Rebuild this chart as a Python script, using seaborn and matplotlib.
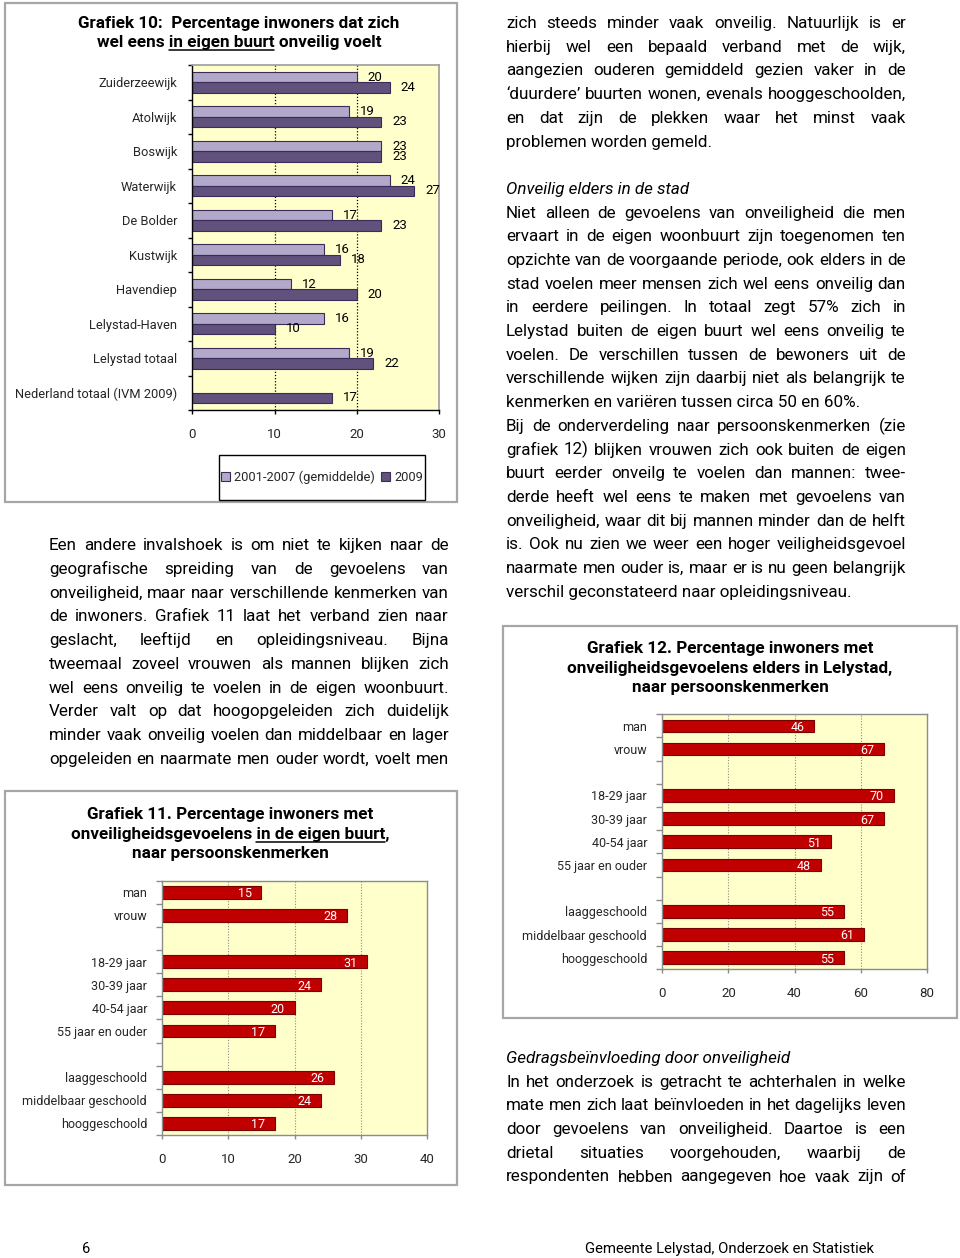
import numpy as np
import pandas as pd
import matplotlib
matplotlib.use("Agg")
import matplotlib.pyplot as plt
import seaborn as sns
from matplotlib.patches import Rectangle
from matplotlib.lines import Line2D
from matplotlib.font_manager import FontProperties

sns.set_theme(style="ticks")
FONT = "Roboto"
plt.rcParams["font.family"] = [FONT, "DejaVu Sans"]

W, H = 960, 1258

# ---- data: grafiek 10 ----
wijken = ["Zuiderzeewijk", "Atolwijk", "Boswijk", "Waterwijk", "De Bolder",
          "Kustwijk", "Havendiep", "Lelystad-Haven", "Lelystad totaal",
          "Nederland totaal (IVM 2009)"]
periodes = ["2001-2007 (gemiddelde)", "2009"]
gem_2001_2007 = [20, 19, 23, 24, 17, 16, 12, 16, 19, np.nan]
jaar_2009 = [24, 23, 23, 27, 23, 18, 20, 10, 22, 17]

# ---- data: grafiek 11 / 12 ----
geslacht = ["man", "vrouw"]
leeftijd = ["18-29 jaar", "30-39 jaar", "40-54 jaar", "55 jaar en ouder"]
opleiding = ["laaggeschoold", "middelbaar geschoold", "hooggeschoold"]
buurt_geslacht = [15, 28]
buurt_leeftijd = [31, 24, 20, 17]
buurt_opleiding = [26, 24, 17]
elders_geslacht = [46, 67]
elders_leeftijd = [70, 67, 51, 48]
elders_opleiding = [55, 61, 55]

# ---- page text ----
left_text = [
    "Een andere invalshoek is om niet te kijken naar de",
    "geografische spreiding van de gevoelens van",
    "onveiligheid, maar naar verschillende kenmerken van",
    "de inwoners. Grafiek 11 laat het verband zien naar",
    "geslacht, leeftijd en opleidingsniveau. Bijna",
    "tweemaal zoveel vrouwen als mannen blijken zich",
    "wel eens onveilig te voelen in de eigen woonbuurt.",
    "Verder valt op dat hoogopgeleiden zich duidelijk",
    "minder vaak onveilig voelen dan middelbaar en lager",
    "opgeleiden en naarmate men ouder wordt, voelt men",
]
right_1 = [
    "zich steeds minder vaak onveilig. Natuurlijk is er",
    "hierbij wel een bepaald verband met de wijk,",
    "aangezien ouderen gemiddeld gezien vaker in de",
    "\u2018duurdere\u2019 buurten wonen, evenals hooggeschoolden,",
    "en dat zijn de plekken waar het minst vaak",
    "problemen worden gemeld.",
]
heading_2 = "Onveilig elders in de stad"
right_2 = [
    "Niet alleen de gevoelens van onveiligheid die men",
    "ervaart in de eigen woonbuurt zijn toegenomen ten",
    "opzichte van de voorgaande periode, ook elders in de",
    "stad voelen meer mensen zich wel eens onveilig dan",
    "in eerdere peilingen. In totaal zegt 57% zich in",
    "Lelystad buiten de eigen buurt wel eens onveilig te",
    "voelen. De verschillen tussen de bewoners uit de",
    "verschillende wijken zijn daarbij niet als belangrijk te",
    "kenmerken en vari\u00ebren tussen circa 50 en 60%.",
]
right_3 = [
    "Bij de onderverdeling naar persoonskenmerken (zie",
    "grafiek 12) blijken vrouwen zich ook buiten de eigen",
    "buurt eerder onveilg te voelen dan mannen:  twee-",
    "derde heeft wel eens te maken met gevoelens van",
    "onveiligheid, waar dit bij mannen minder dan de helft",
    "is. Ook nu zien we weer een hoger veiligheidsgevoel",
    "naarmate men ouder is, maar er is nu geen belangrijk",
    "verschil geconstateerd naar opleidingsniveau.",
]
heading_4 = "Gedragsbe\u00efnvloeding door onveiligheid"
right_4 = [
    "In het onderzoek is getracht te achterhalen in welke",
    "mate men zich laat be\u00efnvloeden in het dagelijks leven",
    "door gevoelens van onveiligheid. Daartoe is een",
    "drietal situaties voorgehouden, waarbij de",
    "respondenten hebben aangegeven hoe vaak zijn of",
]

YELLOW = "#FFFFCC"
LIGHT = "#B0A2CF"
DARK = "#5E4A84"
PURPLE_EDGE = "#3A2B58"
RED = "#C00000"
RED_EDGE = "#7A0000"
GRAY = "#8C8C8C"

fig = plt.figure(figsize=(W / 100, H / 100), dpi=100)
renderer = fig.canvas.get_renderer()


def fx(px):
    return px / W


def fy(py):
    return 1 - py / H


def axes_px(x0, y0, x1, y1):
    return fig.add_axes([x0 / W, 1 - y1 / H, (x1 - x0) / W, (y1 - y0) / H])


def text_w(s, size, weight="normal", style="normal"):
    prop = FontProperties(family=[FONT], size=size, weight=weight, style=style)
    return renderer.get_text_width_height_descent(s, prop, ismath=False)[0]


def prefix_w(s, size, weight="normal"):
    # width including trailing spaces
    return text_w(s + "|", size, weight) - text_w("|", size, weight)


def box(x0, y0, x1, y1, color="#A6A6A6", lw=1.6):
    fig.add_artist(Rectangle((fx(x0), fy(y1)), (x1 - x0) / W, (y1 - y0) / H,
                             transform=fig.transFigure, facecolor="none",
                             edgecolor=color, linewidth=lw, zorder=-1))


def title_line(parts, xc, yb, size):
    full = "".join(t for t, _ in parts)
    total = text_w(full, size, "bold")
    x = xc - total / 2
    fig.text(fx(x), fy(yb), full, fontsize=size, fontweight="bold",
             ha="left", va="baseline", color="black")
    pre = ""
    for t, ul in parts:
        if ul:
            start = x + prefix_w(pre, size, "bold")
            end = start + text_w(t, size, "bold")
            fig.add_artist(Line2D([fx(start), fx(end)], [fy(yb + 3), fy(yb + 3)],
                                  transform=fig.transFigure, color="black", lw=1.1))
        pre += t


def paragraph(lines, x0, x1, base0, step, size, justify_last=False):
    for i, line in enumerate(lines):
        yb = base0 + i * step
        words = line.split()
        last = i == len(lines) - 1 and not justify_last
        if last or len(words) < 2:
            fig.text(fx(x0), fy(yb), " ".join(words), fontsize=size,
                     ha="left", va="baseline", color="black")
            continue
        widths = [text_w(w, size) for w in words]
        gap = (x1 - x0 - sum(widths)) / (len(words) - 1)
        x = x0
        for w, wd in zip(words, widths):
            fig.text(fx(x), fy(yb), w, fontsize=size, ha="left",
                     va="baseline", color="black")
            x += wd + gap


# ---------------- Grafiek 10 ----------------
box(5, 3, 457, 502)
t10 = 10 * 322 / text_w("Grafiek 10:  Percentage inwoners dat zich", 10, "bold")
title_line([("Grafiek 10:  Percentage inwoners dat zich", False)], 239, 28, t10)
title_line([("wel eens ", False), ("in eigen buurt", True), (" onveilig voelt", False)],
           239, 47, t10)

df10 = pd.DataFrame({
    "wijk": wijken * 2,
    "periode": [periodes[0]] * len(wijken) + [periodes[1]] * len(wijken),
    "pct": gem_2001_2007 + jaar_2009,
}).dropna()

ax10 = axes_px(192.3, 65, 439, 410)
sns.barplot(data=df10, y="wijk", x="pct", hue="periode", order=wijken,
            hue_order=periodes, palette=[LIGHT, DARK], width=0.6,
            edgecolor=PURPLE_EDGE, linewidth=0.8, errorbar=None, ax=ax10)
ax10.set_facecolor(YELLOW)
ax10.set_xlim(0, 30)
ax10.set_ylim(len(wijken) - 0.5, -0.5)
ax10.set_xticks([0, 10, 20, 30])
ax10.set_xlabel("")
ax10.set_ylabel("")
ax10.set_yticks(np.arange(len(wijken) + 1) - 0.5, minor=True)
ax10.tick_params(axis="y", which="major", length=0, pad=11, labelsize=9.3)
ax10.tick_params(axis="y", which="minor", length=3, width=1, color="black")
ax10.tick_params(axis="x", length=3, width=1, color="black", pad=10, labelsize=9.5)
for v in (10, 20):
    ax10.axvline(v, color="black", ls=(0, (1, 1.5)), lw=0.9, zorder=0.5)
for side in ("left", "bottom"):
    ax10.spines[side].set_color("black")
    ax10.spines[side].set_linewidth(1.0)
for side in ("top", "right"):
    ax10.spines[side].set_visible(True)
    ax10.spines[side].set_color("#A0A0A0")
for cont in ax10.containers:
    ax10.bar_label(cont, fmt="%.0f", padding=8, fontsize=9.5, color="black")

handles, labels = ax10.get_legend_handles_labels()
ax10.get_legend().remove()
fig.legend(handles, labels, loc="center", bbox_to_anchor=(fx(322), fy(477)),
           ncol=2, frameon=False, handlelength=0.7, handleheight=0.7,
           handletextpad=0.3, columnspacing=0.5, fontsize=9.3)
box(219, 455, 425, 500, color="black", lw=1.0)


# ---------------- Grafiek 11 / 12 ----------------
def person_chart(ax, g_vals, l_vals, o_vals, xmax, step):
    order = geslacht + [" "] + leeftijd + ["  "] + opleiding
    df = pd.DataFrame({"kenmerk": geslacht + leeftijd + opleiding,
                       "pct": g_vals + l_vals + o_vals})
    sns.barplot(data=df, y="kenmerk", x="pct", order=order, color=RED,
                saturation=1, edgecolor=RED_EDGE, linewidth=0.8, width=0.55,
                errorbar=None, ax=ax)
    ax.set_facecolor(YELLOW)
    ax.set_xlim(0, xmax)
    ax.set_ylim(len(order) - 0.5, -0.5)
    ax.set_xticks(np.arange(0, xmax + 1, step))
    ax.set_xlabel("")
    ax.set_ylabel("")
    ax.set_yticks(np.arange(len(order) + 1) - 0.5, minor=True)
    ax.tick_params(axis="y", which="major", length=0, pad=11, labelsize=9)
    ax.tick_params(axis="y", which="minor", length=4, width=1, color=GRAY)
    ax.tick_params(axis="x", length=3, width=1, color=GRAY, pad=10, labelsize=9.5)
    for v in np.arange(step, xmax, step):
        ax.axvline(v, color=GRAY, ls=(0, (1, 1.5)), lw=0.8, zorder=0.5)
    for side in ("left", "bottom", "top", "right"):
        ax.spines[side].set_visible(True)
        ax.spines[side].set_color(GRAY)
        ax.spines[side].set_linewidth(1.0)
    for p in ax.containers[0]:
        ax.annotate(f"{p.get_width():.0f}", (p.get_width(), p.get_y() + p.get_height() / 2),
                    xytext=(-7, -1), textcoords="offset points", ha="right",
                    va="center", color="white", fontsize=9)


box(5, 791, 457, 1185)
t11 = 10 * 320 / text_w("onveiligheidsgevoelens in de eigen buurt,", 10, "bold")
title_line([("Grafiek 11. Percentage inwoners met", False)], 230, 819, t11)
title_line([("onveiligheidsgevoelens ", False), ("in de eigen buurt", True), (",", False)],
           230, 839, t11)
title_line([("naar persoonskenmerken", False)], 230, 858, t11)
ax11 = axes_px(162.3, 880.7, 426.7, 1135)
person_chart(ax11, buurt_geslacht, buurt_leeftijd, buurt_opleiding, 40, 10)

box(503, 626, 957, 1018)
title_line([("Grafiek 12. Percentage inwoners met", False)], 730, 653, t11)
title_line([("onveiligheidsgevoelens elders in Lelystad,", False)], 730, 673, t11)
title_line([("naar persoonskenmerken", False)], 730, 692, t11)
ax12 = axes_px(662.3, 714.3, 926.7, 969.3)
person_chart(ax12, elders_geslacht, elders_leeftijd, elders_opleiding, 80, 20)

# ---------------- body text ----------------
justified = (left_text + right_1[:-1] + right_2[:-1] + right_3[:-1] + right_4)
body = min(10 * 400 / text_w(l, 10) for l in justified)
STEP = 23.7

paragraph(left_text, 49, 449, 550, 23.78, body, justify_last=True)
paragraph(right_1, 506, 906, 28, STEP, body)
fig.text(fx(506), fy(28 + 7 * STEP), heading_2, fontsize=body, style="italic",
         ha="left", va="baseline", color="black")
paragraph(right_2, 506, 906, 28 + 8 * STEP, STEP, body)
paragraph(right_3, 506, 906, 28 + 17 * STEP, STEP, body)
fig.text(fx(506), fy(1063), heading_4, fontsize=body, style="italic",
         ha="left", va="baseline", color="black")
paragraph(right_4, 506, 906, 1063 + STEP, STEP, body, justify_last=True)

# footer
fig.text(fx(82), fy(1253), "6", fontsize=10.5, ha="left", va="baseline", color="black")
fig.text(fx(585), fy(1253), "Gemeente Lelystad, Onderzoek en Statistiek", fontsize=10.7,
         ha="left", va="baseline", color="black")

fig.savefig("out.png", dpi=100)
